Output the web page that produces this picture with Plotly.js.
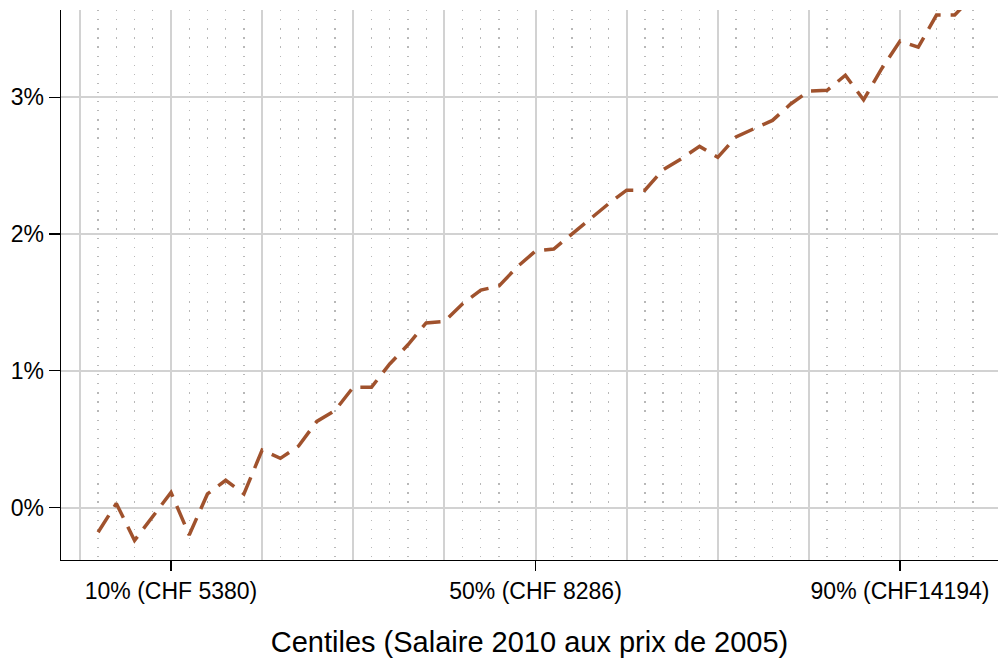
<!DOCTYPE html>
<html>
<head>
<meta charset="utf-8">
<script src="https://cdn.plot.ly/plotly-3.0.1.min.js"></script>
<style>html,body{margin:0;padding:0;background:#fff;}#chart{width:998px;height:658px;}</style>
</head>
<body>
<div id="chart"></div>
<script>
// Centiles (x) and wage growth in % (y)
const centiles = [2,4,6,8,10,12,14,16,18,20,22,24,26,28,30,32,34,36,38,40,42,44,46,48,50,52,54,56,58,60,62,64,66,68,70,72,74,76,78,80,82,84,86,88,90,92,94,96,98];
const growth = [-0.18,0.03,-0.24,-0.07,0.11,-0.20,0.10,0.20,0.10,0.42,0.36,0.45,0.63,0.71,0.88,0.88,1.05,1.19,1.35,1.36,1.49,1.59,1.62,1.76,1.875,1.89,2.00,2.11,2.22,2.32,2.32,2.47,2.55,2.64,2.56,2.71,2.77,2.83,2.95,3.045,3.05,3.16,2.98,3.21,3.41,3.365,3.60,3.60,3.74];
const xTickVals = [10,50,90];
const xTickText = ['10% (CHF 5380)','50% (CHF 8286)','90% (CHF14194)'];
const xMajorGrid = [0,20,30,40,60,70,80];
const xMinorGrid = [2,4,6,8,12,14,16,18,22,24,26,28,32,34,36,38,42,44,46,48,52,54,56,58,62,64,66,68,72,74,76,78,82,84,86,88,92,94,96,98];
const yTickVals = [0,1,2,3];
const yTickText = ['0%','1%','2%','3%'];
const xTitle = 'Centiles (Salaire 2010 aux prix de 2005)';

const xRange = [-2.07, 100.75];
const yRange = [-0.383, 3.637];
const gridCol = '#d2d2d2';
const fontFam = 'Liberation Sans, Arial, sans-serif';

const traces = [
  {x: [], y: [], xaxis: 'x2', yaxis: 'y', type: 'scatter', mode: 'lines', showlegend: false, hoverinfo: 'skip'},
  {x: centiles, y: growth, type: 'scatter', mode: 'lines',
   line: {color: '#A0522D', width: 3.5, dash: '20px,10px'}, showlegend: false}
];

const layout = {
  width: 998, height: 658,
  margin: {l: 61, r: 0, t: 10, b: 98},
  paper_bgcolor: '#fff', plot_bgcolor: '#fff',
  font: {family: fontFam, color: '#000', size: 23},
  showlegend: false,
  xaxis: {
    range: xRange, tickmode: 'array', tickvals: xTickVals, ticktext: xTickText,
    ticks: 'outside', ticklen: 10, tickwidth: 1.3, tickcolor: '#000',
    showgrid: true, gridcolor: gridCol, gridwidth: 2,
    showline: true, linecolor: '#000', linewidth: 1.3, zeroline: false,
    tickfont: {size: 23, family: fontFam},
    title: {text: xTitle, font: {size: 29, family: fontFam}, standoff: 28},
    minor: {tickvals: xMajorGrid, showgrid: true, gridcolor: gridCol, gridwidth: 2, ticks: ''},
    automargin: false
  },
  xaxis2: {
    overlaying: 'x', anchor: 'y', side: 'bottom', range: xRange,
    tickmode: 'array', tickvals: xMinorGrid, showticklabels: false, ticks: '',
    showgrid: true, gridcolor: '#b8b8b8', gridwidth: 1.3, griddash: '1.3px,7.8px',
    showline: false, zeroline: false
  },
  yaxis: {
    range: yRange, tickmode: 'array', tickvals: yTickVals, ticktext: yTickText,
    ticks: 'outside', ticklen: 11, tickwidth: 1.3, tickcolor: '#000',
    showgrid: true, gridcolor: gridCol, gridwidth: 2,
    showline: true, linecolor: '#000', linewidth: 1.5, zeroline: false,
    tickfont: {size: 23, family: fontFam}, automargin: false
  }
};

Plotly.newPlot('chart', traces, layout, {displayModeBar: false, staticPlot: true});
</script>
</body>
</html>
